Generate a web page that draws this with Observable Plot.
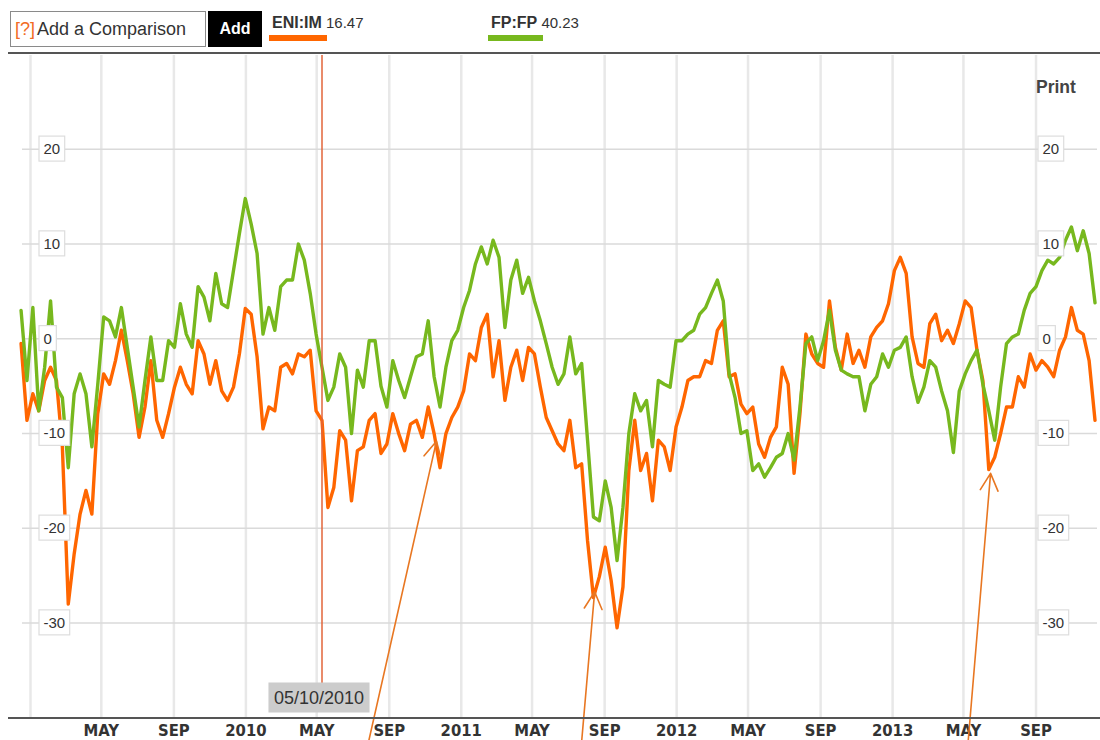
<!DOCTYPE html>
<html><head><meta charset="utf-8">
<script src="https://cdn.jsdelivr.net/npm/d3@7"></script>
<script src="https://cdn.jsdelivr.net/npm/@observablehq/plot@0.6"></script>
<style>
html,body{margin:0;padding:0;background:#fff;}
#wrap{position:relative;width:1100px;height:740px;overflow:hidden;font-family:"Liberation Sans",Arial,sans-serif;color:#333;background:#fff;}
#cmpbox{position:absolute;left:10px;top:11px;width:194px;height:34px;border:1px solid #8a8a8a;font-size:18px;line-height:34px;white-space:nowrap;}
#cmpbox .q{color:#f26c23;margin-left:4px;margin-right:2px;}
#addbtn{position:absolute;left:208px;top:11px;width:54px;height:36px;background:#000;color:#fff;font-weight:bold;font-size:16px;line-height:36px;text-align:center;}
.leg{position:absolute;top:13px;font-size:15px;line-height:20px;white-space:nowrap;color:#333;}
.leg b{font-size:16px;}
.sw{position:absolute;top:35px;height:6px;}
#hline{position:absolute;left:8px;top:52px;width:1092px;height:2px;background:#555;}
#chart{position:absolute;left:0;top:53px;}
#chart svg{overflow:visible;}
#axisline{position:absolute;left:8px;top:717px;width:1092px;height:2px;background:#555;}
#print{position:absolute;left:1036px;top:77px;font-weight:bold;font-size:17.5px;line-height:20px;color:#444;}
</style></head><body>
<div id="wrap">
  <div id="cmpbox"><span class="q">[?]</span>Add a Comparison</div>
  <div id="addbtn">Add</div>
  <div id="hline"></div>
  <div id="chart"></div>
  <div id="axisline"></div>
  <div id="print">Print</div>
</div>
<script>
const seriesNames = ["ENI:IM", "FP:FP"];
const seriesQuotes = ["16.47", "40.23"];
const seriesColors = ["#ff6600", "#77b81e"];

const dates = [
"2008-12-16","2008-12-26","2009-01-05","2009-01-15","2009-01-25","2009-02-04","2009-02-14","2009-02-24","2009-03-06","2009-03-16",
"2009-03-26","2009-04-05","2009-04-15","2009-04-25","2009-05-05","2009-05-15","2009-05-25","2009-06-04","2009-06-14","2009-06-24",
"2009-07-04","2009-07-14","2009-07-24","2009-08-03","2009-08-13","2009-08-23","2009-09-02","2009-09-12","2009-09-22","2009-10-02",
"2009-10-12","2009-10-22","2009-11-01","2009-11-11","2009-11-21","2009-12-01","2009-12-11","2009-12-21","2009-12-31","2010-01-10",
"2010-01-20","2010-01-30","2010-02-09","2010-02-19","2010-03-01","2010-03-11","2010-03-21","2010-03-31","2010-04-10","2010-04-20",
"2010-04-30","2010-05-10","2010-05-20","2010-05-30","2010-06-09","2010-06-19","2010-06-29","2010-07-09","2010-07-19","2010-07-29",
"2010-08-08","2010-08-18","2010-08-28","2010-09-07","2010-09-17","2010-09-27","2010-10-07","2010-10-17","2010-10-27","2010-11-06",
"2010-11-16","2010-11-26","2010-12-06","2010-12-16","2010-12-26","2011-01-05","2011-01-15","2011-01-25","2011-02-04","2011-02-14",
"2011-02-24","2011-03-06","2011-03-16","2011-03-26","2011-04-05","2011-04-15","2011-04-25","2011-05-05","2011-05-15","2011-05-25",
"2011-06-04","2011-06-14","2011-06-24","2011-07-04","2011-07-14","2011-07-24","2011-08-03","2011-08-13","2011-08-23","2011-09-02",
"2011-09-12","2011-09-22","2011-10-02","2011-10-12","2011-10-22","2011-11-01","2011-11-11","2011-11-21","2011-12-01","2011-12-11",
"2011-12-21","2011-12-31","2012-01-10","2012-01-20","2012-01-30","2012-02-09","2012-02-19","2012-02-29","2012-03-10","2012-03-20",
"2012-03-30","2012-04-09","2012-04-19","2012-04-29","2012-05-09","2012-05-19","2012-05-29","2012-06-08","2012-06-18","2012-06-28",
"2012-07-08","2012-07-18","2012-07-28","2012-08-07","2012-08-17","2012-08-27","2012-09-06","2012-09-16","2012-09-26","2012-10-06",
"2012-10-16","2012-10-26","2012-11-05","2012-11-15","2012-11-25","2012-12-05","2012-12-15","2012-12-25","2013-01-04","2013-01-14",
"2013-01-24","2013-02-03","2013-02-13","2013-02-23","2013-03-05","2013-03-15","2013-03-25","2013-04-04","2013-04-14","2013-04-24",
"2013-05-04","2013-05-14","2013-05-24","2013-06-03","2013-06-13","2013-06-23","2013-07-03","2013-07-13","2013-07-23","2013-08-02",
"2013-08-12","2013-08-22","2013-09-01","2013-09-11","2013-09-21","2013-10-01","2013-10-11","2013-10-21","2013-10-31","2013-11-10",
"2013-11-20","2013-11-30","2013-12-10"
];

// ENI:IM, % change
const eniValues = [
-0.5,-8.6,-5.8,-7.6,-4.4,-3.0,-4.4,-11.4,-28.0,-22.7,
-18.5,-16.0,-18.5,-7.9,-3.7,-4.8,-2.3,0.9,-2.3,-5.8,
-10.4,-7.2,-2.3,-8.6,-10.4,-7.9,-5.1,-3.0,-4.8,-5.8,
-0.2,-1.6,-4.8,-2.3,-5.5,-6.5,-5.1,-1.6,3.2,2.6,
-1.9,-9.5,-7.2,-7.6,-3.0,-2.6,-3.7,-1.6,-1.9,-1.2,
-7.6,-8.6,-17.8,-15.7,-9.7,-10.7,-17.1,-11.8,-11.4,-8.6,
-7.9,-12.1,-11.1,-7.9,-10.0,-11.8,-9.0,-8.6,-10.4,-7.2,
-10.0,-13.6,-10.0,-8.3,-7.2,-5.5,-1.6,-2.3,1.2,2.6,
-4.0,-0.2,-6.5,-3.0,-1.2,-4.4,-0.9,-1.6,-5.1,-8.3,
-9.7,-11.1,-11.8,-8.6,-13.6,-13.2,-21.3,-27.3,-25.1,-22.0,
-25.5,-30.5,-26.2,-13.9,-8.6,-13.9,-12.1,-17.1,-10.7,-11.4,
-13.9,-9.3,-7.2,-4.4,-4.0,-4.0,-2.3,-2.6,0.9,1.9,
-4.0,-3.7,-6.9,-7.9,-7.2,-11.1,-12.5,-10.4,-9.3,-3.0,
-4.8,-14.2,-7.9,0.5,-1.6,-2.6,-3.0,4.0,-0.9,-3.3,
0.5,-2.6,-1.2,-3.0,0.2,1.2,1.9,3.7,7.2,8.6,
6.9,0.2,-2.6,-3.0,1.6,2.6,-0.2,0.9,-0.5,1.6,
4.0,3.3,-1.2,-4.4,-13.8,-12.5,-10.0,-7.2,-7.2,-4.0,
-5.1,-1.6,-3.3,-2.3,-3.0,-4.0,-1.2,0.2,3.3,0.9,
0.5,-2.3,-8.6
];

// FP:FP, % change
const fpValues = [
3.0,-4.4,3.3,-7.6,-3.0,4.0,-5.1,-6.2,-13.6,-5.8,
-3.7,-5.8,-11.4,-4.8,2.3,1.9,0.2,3.3,-0.9,-5.1,
-9.3,-4.4,0.2,-4.4,-4.4,-0.2,-0.9,3.7,0.5,-0.9,
5.5,4.4,1.9,6.9,3.7,3.3,7.2,11.1,14.8,12.1,
9.0,0.5,3.3,0.9,5.5,6.2,6.2,10.0,8.3,4.8,
0.5,-3.0,-6.5,-5.1,-1.6,-3.0,-10.0,-3.3,-5.1,-0.2,
-0.2,-5.0,-7.2,-2.3,-4.4,-6.2,-4.0,-1.9,-1.6,1.9,
-4.0,-7.2,-3.0,-0.2,0.9,3.3,5.1,7.9,9.7,7.9,
10.4,8.6,1.2,6.2,8.3,4.8,6.5,4.0,1.9,-0.5,
-3.0,-4.8,-3.7,0.2,-3.7,-2.6,-10.7,-18.8,-19.2,-15.0,
-17.8,-23.4,-17.8,-10.0,-5.8,-7.6,-6.5,-11.4,-4.4,-4.8,
-5.1,-0.2,-0.2,0.5,0.9,2.6,3.3,4.8,6.2,4.0,
-3.7,-6.2,-10.0,-9.7,-13.9,-13.2,-14.6,-13.6,-12.5,-12.1,
-10.0,-12.8,-7.2,-0.5,0.2,-2.3,-0.2,3.0,-1.2,-3.3,
-3.7,-4.0,-4.0,-7.6,-4.8,-4.0,-1.6,-3.0,-1.2,-0.9,
0.2,-4.0,-6.7,-5.1,-2.3,-3.0,-5.5,-7.6,-12.0,-5.5,
-3.7,-2.3,-1.2,-4.8,-7.6,-10.7,-5.1,-0.5,0.2,0.5,
3.0,4.8,5.5,7.2,8.3,7.9,8.6,10.4,11.8,9.3,
11.4,9.0,3.8
];

const yTicks = [20, 10, 0, -10, -20, -30];
const gridDates = ["2009-01-01","2009-05-01","2009-09-01","2010-01-01","2010-05-01","2010-09-01",
  "2011-01-01","2011-05-01","2011-09-01","2012-01-01","2012-05-01","2012-09-01",
  "2013-01-01","2013-05-01","2013-09-01"];
const xLabelDates = ["2009-05-01","2009-09-01","2010-01-01","2010-05-01","2010-09-01",
  "2011-01-01","2011-05-01","2011-09-01","2012-01-01","2012-05-01","2012-09-01",
  "2013-01-01","2013-05-01","2013-09-01"];
const xLabelTexts = ["MAY","SEP","2010","MAY","SEP","2011","MAY","SEP","2012","MAY","SEP","2013","MAY","SEP"];
const markerDate = "2010-05-10";
const markerLabel = "05/10/2010";
const arrowTailDates = ["2010-07-28", "2011-07-24", "2013-05-09"];
const arrowTailValues = [-42.5, -42.5, -42.5];
const arrowTipDates = ["2010-11-20", "2011-08-15", "2013-06-16"];
const arrowTipValues = [-10.8, -26.7, -14.2];

const parse = d3.utcParse("%Y-%m-%d");
const yTop = 29.9, yBottom = -40.07;

// legend
const wrap = document.getElementById("wrap");
const legX = [272, 491], swX = [269, 488], swW = [58, 55];
seriesNames.forEach((n, i) => {
  const d = document.createElement("div");
  d.className = "leg"; d.style.left = legX[i] + "px";
  d.innerHTML = "<b>" + n + "</b> " + seriesQuotes[i];
  wrap.appendChild(d);
  const s = document.createElement("div");
  s.className = "sw"; s.style.left = swX[i] + "px"; s.style.width = swW[i] + "px";
  s.style.background = seriesColors[i];
  wrap.appendChild(s);
});

const eni = dates.map((d, i) => ({date: parse(d), value: eniValues[i]}));
const fp = dates.map((d, i) => ({date: parse(d), value: fpValues[i]}));

const chart = Plot.plot({
  width: 1100, height: 687,
  marginTop: 2, marginBottom: 22, marginLeft: 22, marginRight: 3,
  style: {background: "transparent", overflow: "visible", fontFamily: "Liberation Sans, Arial, sans-serif"},
  x: {type: "utc", domain: [parse("2009-01-01"), parse("2014-01-01")], range: [30, 1107.5], axis: null},
  y: {domain: [yBottom, yTop], axis: null},
  marks: [
    Plot.ruleX(gridDates.map(parse), {stroke: "#e8e8e8", strokeWidth: 2.5}),
    Plot.ruleY(yTicks, {stroke: "#dadada", strokeWidth: 1.5}),
    Plot.line(eni, {x: "date", y: "value", stroke: seriesColors[0], strokeWidth: 3.4, strokeLinejoin: "round"}),
    Plot.line(fp, {x: "date", y: "value", stroke: seriesColors[1], strokeWidth: 3.4, strokeLinejoin: "round"}),
    Plot.ruleX([parse(markerDate)], {y1: yTop, y2: -36.9, stroke: "#e2643a", strokeWidth: 1.5}),
    Plot.text(yTicks, {y: d => d, text: d => String(d), frameAnchor: "left", dx: 21, textAnchor: "start",
      fontSize: 15, fill: "#333", className: "ybox"}),
    Plot.text(yTicks, {y: d => d, text: d => String(d), frameAnchor: "right", dx: -55, textAnchor: "start",
      fontSize: 15, fill: "#333", className: "ybox"}),
    Plot.text([markerLabel], {x: [parse(markerDate)], text: d => d, frameAnchor: "bottom", dx: -3, dy: -15,
      fontSize: 18, fill: "#333", className: "dbox"}),
    Plot.text(xLabelTexts, {x: xLabelDates.map(parse), text: d => d, frameAnchor: "bottom", dy: 17,
      fontSize: 16.5, fontWeight: "bold", fill: "#333",
      fontFamily: "Liberation Sans Narrow, DejaVu Sans Condensed, Arial, sans-serif"}),
    Plot.arrow(arrowTipValues, {x1: arrowTailDates.map(parse), y1: arrowTailValues,
      x2: arrowTipDates.map(parse), y2: arrowTipValues,
      stroke: "#e87722", strokeWidth: 1.6, headLength: 18, headAngle: 55})
  ]
});
document.getElementById("chart").appendChild(chart);

function boxify(cls, padX, h, fill, stroke) {
  chart.querySelectorAll("g." + cls + " text").forEach(t => {
    const b = t.getBBox();
    const cy = b.y + b.height / 2;
    const r = document.createElementNS("http://www.w3.org/2000/svg", "rect");
    r.setAttribute("x", b.x - padX);
    r.setAttribute("y", cy - h / 2);
    r.setAttribute("width", b.width + 2 * padX);
    r.setAttribute("height", h);
    r.setAttribute("fill", fill);
    r.setAttribute("stroke", stroke);
    r.setAttribute("stroke-width", stroke === "none" ? 0 : 1.2);
    const tr = t.getAttribute("transform");
    if (tr) r.setAttribute("transform", tr);
    t.parentNode.insertBefore(r, t);
  });
}
boxify("ybox", 4.5, 25, "#fff", "#dddddd");
boxify("dbox", 5.5, 30, "#cccccc", "none");
</script>
</body></html>
